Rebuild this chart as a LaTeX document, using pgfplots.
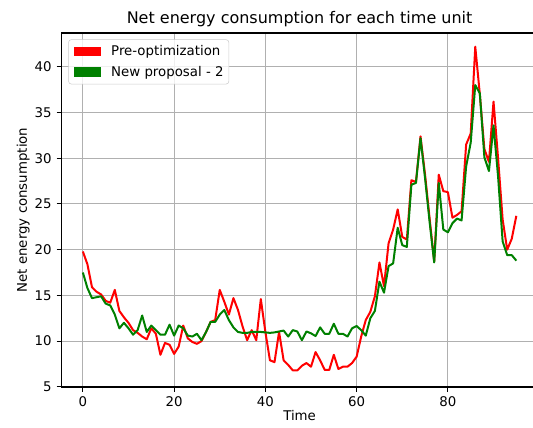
\documentclass[border=0pt]{standalone}
\usepackage{fontspec}
\setmainfont{DejaVu Sans}
\usepackage{pgfplots}
\pgfplotsset{compat=1.18}
\usepackage{pgfplotstable}
\definecolor{mplgreen}{RGB}{0,128,0}
\definecolor{mplgrid}{RGB}{176,176,176}

\pgfplotstableread{
t pre new
0 19.8 17.5
1 18.4 15.8
2 15.9 14.7
3 15.4 14.8
4 15.1 14.9
5 14.4 14.1
6 14.2 13.9
7 15.6 12.9
8 13.3 11.4
9 12.6 12.0
10 12.0 11.4
11 11.2 10.7
12 10.9 11.2
13 10.5 12.8
14 10.2 11.0
15 11.4 11.7
16 10.8 11.2
17 8.5 10.7
18 9.8 10.7
19 9.6 11.8
20 8.6 10.6
21 9.4 11.7
22 11.7 11.4
23 10.3 10.6
24 9.9 10.5
25 9.7 10.8
26 10.0 10.1
27 11.0 11.0
28 12.1 12.1
29 12.3 12.1
30 15.6 12.9
31 14.3 13.4
32 12.9 12.3
33 14.7 11.5
34 13.4 11.0
35 11.6 10.9
36 10.1 10.9
37 11.2 11.0
38 10.1 11.0
39 14.6 11.0
40 11.0 10.95
41 7.9 10.9
42 7.7 10.95
43 11.0 11.05
44 7.9 11.15
45 7.4 10.5
46 6.8 11.2
47 6.8 11.05
48 7.3 10.1
49 7.6 11.05
50 7.2 10.85
51 8.8 10.55
52 7.9 11.5
53 6.85 10.8
54 6.85 10.8
55 8.5 11.9
56 6.95 10.8
57 7.2 10.8
58 7.2 10.5
59 7.6 11.4
60 8.3 11.65
61 10.5 11.2
62 12.3 10.6
63 13.2 12.5
64 14.9 13.3
65 18.6 16.5
66 16.0 15.3
67 20.7 18.2
68 22.2 18.5
69 24.4 22.4
70 21.4 20.5
71 21.1 20.3
72 27.6 27.1
73 27.4 27.3
74 32.4 32.2
75 28.2 27.8
76 23.4 23.0
77 18.7 18.6
78 28.2 27.3
79 26.4 22.2
80 26.3 21.9
81 23.5 22.9
82 23.8 23.4
83 24.2 23.2
84 31.5 29.1
85 32.7 31.7
86 42.2 38.0
87 37.0 37.1
88 31.0 30.1
89 29.6 28.6
90 36.2 33.6
91 30.0 28.0
92 23.3 20.9
93 20.0 19.4
94 21.2 19.4
95 23.7 18.8
}\datatable

\begin{document}
\begin{tikzpicture}
\begin{axis}[
  name=ax,
  scale only axis,
  width=343.3pt, height=254.9pt,
  xmin=-4.75, xmax=99.75,
  ymin=4.98, ymax=43.7,
  xtick={0,20,40,60,80},
  ytick={5,10,15,20,25,30,35,40},
  xtick pos=bottom, ytick pos=left,
  tick align=outside,
  major tick length=3.36pt,
  tick style={black, line width=0.77pt},
  axis line style={black, line width=0.77pt},
  grid=major,
  major grid style={mplgrid, line width=0.77pt},
  /pgf/number format/assume math mode=true,
  ticklabel style={font=\fontsize{9.6}{11.5}\selectfont},
  every axis title/.style={at={(0.5,1)}, anchor=south, inner sep=0pt, yshift=4.3pt, font=\fontsize{11.52}{13.8}\selectfont},
  title={Net energy consumption for each time unit},
  xlabel={Time},
  ylabel={Net energy consumption},
  label style={font=\fontsize{9.6}{11.5}\selectfont},
  xlabel style={inner sep=0pt, yshift=1pt},
  ylabel style={inner sep=0pt},
  legend cell align=left,
  legend style={at={(0.0149,0.982)}, anchor=north west,
    draw=black!20, fill=white, fill opacity=0.8, text opacity=1,
    rounded corners=2pt, font=\fontsize{9.6}{11.5}\selectfont,
    inner xsep=3.8pt, inner ysep=4pt, row sep=5.2pt, column sep=7.7pt,
    nodes={inner sep=0pt, text height=7.6pt, text depth=1.8pt}},
  legend image code/.code={\fill[#1, draw=none, fill opacity=1, sharp corners] (0pt,-3.4pt) rectangle (19.2pt,3.4pt);},
]
\addplot[color=red, line width=1.44pt, line join=round] table[x=t, y=pre] {\datatable};
\addlegendentry{Pre-optimization}
\addplot[color=mplgreen, line width=1.44pt, line join=round] table[x=t, y=new] {\datatable};
\addlegendentry{New proposal - 2}
\end{axis}
\pgfresetboundingbox
\path[use as bounding box] ([shift={(-44.06pt,-29.52pt)}]ax.south west) rectangle ([shift={(339.7pt,278.64pt)}]ax.south west);
\end{tikzpicture}
\end{document}
